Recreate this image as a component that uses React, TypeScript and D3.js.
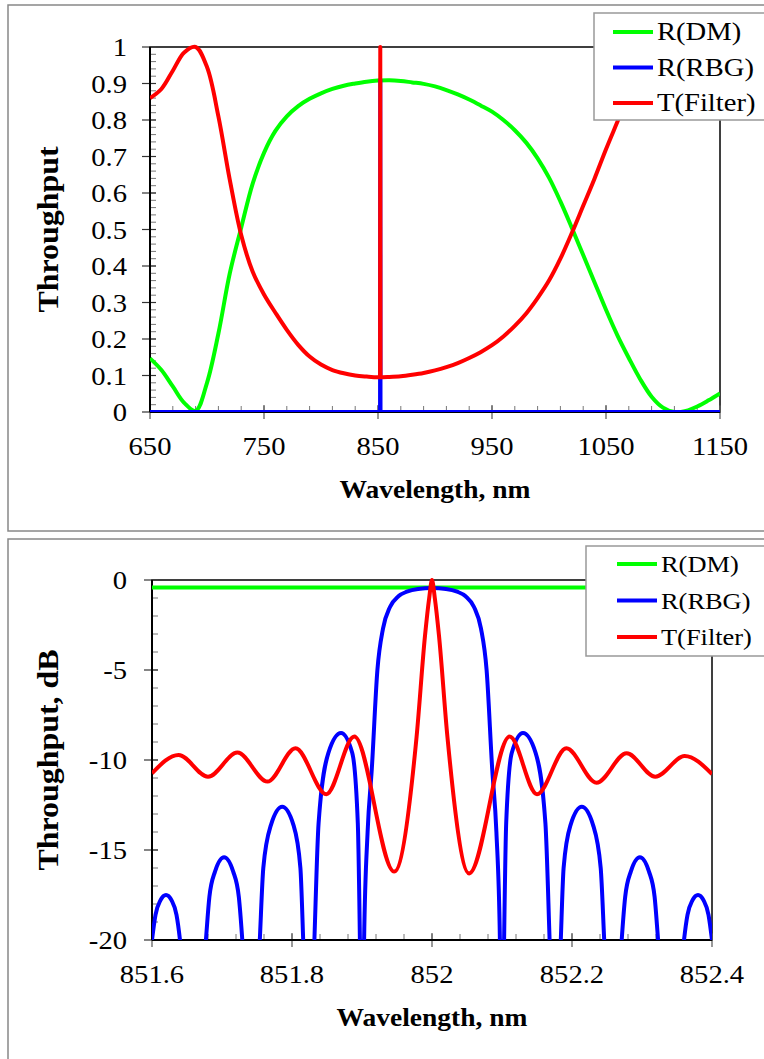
import React from 'react';
import * as d3 from 'd3';

// ---- top panel data (linear throughput) ----
const wlTop = [650, 660, 670, 680, 690, 700, 710, 720, 730, 740, 750, 760, 770, 780, 790, 800, 810, 820, 830, 840, 850,
  860, 870, 880, 890, 900, 910, 920, 930, 940, 950, 960, 970, 980, 990, 1000, 1010, 1020, 1030, 1040, 1050,
  1060, 1070, 1080, 1090, 1100, 1110, 1120, 1130, 1140, 1150];
const rDmTop = [0.147, 0.115, 0.07, 0.025, 0.003, 0.08, 0.215, 0.38, 0.505, 0.625, 0.71, 0.77, 0.81, 0.838, 0.858, 0.873, 0.885, 0.894, 0.9, 0.905, 0.908,
  0.909, 0.907, 0.903, 0.899, 0.892, 0.882, 0.87, 0.856, 0.84, 0.823, 0.8, 0.772, 0.738, 0.695, 0.642, 0.577, 0.505, 0.43, 0.355, 0.28,
  0.21, 0.148, 0.09, 0.042, 0.012, 0.0, 0.003, 0.015, 0.032, 0.051];
const tFilterTop = [0.86, 0.885, 0.935, 0.985, 1.0, 0.945, 0.81, 0.636, 0.485, 0.385, 0.322, 0.272, 0.225, 0.184, 0.152, 0.13, 0.115, 0.106, 0.1, 0.097, 0.095,
  0.096, 0.098, 0.102, 0.107, 0.114, 0.123, 0.134, 0.148, 0.164, 0.183, 0.207, 0.236, 0.27, 0.312, 0.36, 0.42, 0.49, 0.565, 0.64, 0.72,
  0.795, 0.87, 0.935, 0.98, 1.0, 0.99, 0.97, 0.95, 0.93, 0.9];
const spikeWl = [851.8, 852, 852.2];
const tFilterSpike = [0.095, 1.0, 0.095];
const rbgTopWl = [650, 851.8, 852, 852.2, 1150];
const rRbgTop = [0, 0, 0.91, 0, 0];

// ---- bottom panel data (dB) ----
const dmBotWl = [851.6, 852.4];
const rDmBot = [-0.42, -0.42];
const rbgWl = [851.600, 851.605, 851.612, 851.620, 851.628, 851.635, 851.640, 851.658,
  851.677, 851.682, 851.690, 851.703, 851.716, 851.724, 851.729, 851.742,
  851.754, 851.759, 851.770, 851.786, 851.802, 851.812, 851.816, 851.824,
  851.832, 851.838, 851.852, 851.870, 851.886, 851.894, 851.897, 851.900,
  851.903, 851.908, 851.914, 851.922, 851.930, 851.940, 851.952, 851.964, 851.980, 852.000,
  852.020, 852.036, 852.048, 852.060, 852.070, 852.078, 852.086, 852.092, 852.097,
  852.100, 852.103, 852.106, 852.114, 852.130, 852.148, 852.162, 852.168, 852.176,
  852.184, 852.188, 852.198, 852.214, 852.230, 852.241, 852.246, 852.258,
  852.271, 852.276, 852.284, 852.297, 852.310, 852.318, 852.323, 852.342,
  852.360, 852.365, 852.372, 852.380, 852.388, 852.395, 852.400];
const rRbgDb = [-20, -18.6, -17.8, -17.5, -17.8, -18.6, -20, -30,
  -20, -17.6, -16.2, -15.4, -16.2, -17.6, -20, -30,
  -20, -16.0, -13.6, -12.6, -13.6, -16.0, -20, -30,
  -20, -13.5, -9.6, -8.5, -9.6, -13.5, -20, -30,
  -20, -14, -10.5, -5.0, -2.7, -1.5, -0.9, -0.65, -0.5, -0.45,
  -0.5, -0.65, -0.9, -1.5, -2.7, -5.0, -10.5, -14, -20,
  -30, -20, -13.5, -9.6, -8.5, -9.6, -13.5, -20, -30,
  -20, -16.0, -13.6, -12.6, -13.6, -16.0, -20, -30,
  -20, -17.6, -16.2, -15.4, -16.2, -17.6, -20, -30,
  -20, -18.6, -17.8, -17.5, -17.8, -18.6, -20];
const filterWl = [851.600, 851.638, 851.680, 851.722, 851.765, 851.805, 851.849, 851.889, 851.946, 851.978, 851.990, 851.996,
  852.000, 852.004, 852.010, 852.022, 852.053, 852.111, 852.150, 852.192, 852.235, 852.278, 852.319, 852.361, 852.400];
const tFilterDb = [-10.74, -9.72, -10.93, -9.59, -11.2, -9.35, -11.9, -8.7, -16.2, -8.7, -3.1, -1.0,
  0, -1.0, -3.1, -8.7, -16.3, -8.7, -11.9, -9.35, -11.26, -9.63, -10.93, -9.78, -10.78];

const seriesNames = ['R(DM)', 'R(RBG)', 'T(Filter)'];
const seriesColors = ['#00ff00', '#0000ff', '#ff0000'];

const topXTicks = [650, 750, 850, 950, 1050, 1150];
const topYTicks = [0, 0.1, 0.2, 0.3, 0.4, 0.5, 0.6, 0.7, 0.8, 0.9, 1];
const topYLabels = ['0', '0.1', '0.2', '0.3', '0.4', '0.5', '0.6', '0.7', '0.8', '0.9', '1'];
const botXTicks = [851.6, 851.8, 852, 852.2, 852.4];
const botXLabels = ['851.6', '851.8', '852', '852.2', '852.4'];
const botYTicks = [0, -5, -10, -15, -20];
const botYLabels = ['0', '-5', '-10', '-15', '-20'];

const FONT = '"Liberation Serif", "Times New Roman", serif';

type Pt = [number, number];
const zip = (xs: number[], ys: number[]): Pt[] => xs.map((x, i) => [x, ys[i]] as Pt);

function Panel({ top, x, y, xTicks, xLabels, yTicks, yLabels, xMinorStep, yMinorStep, series, yTitle, legend, clipId }: any) {
  const [x0, x1] = x.range();
  const [y0, y1] = y.range(); // y0 bottom, y1 top
  const xd = x.domain();
  const yd = y.domain();
  const xMinor = d3.range(Math.round((xd[1] - xd[0]) / xMinorStep) + 1).map(i => xd[0] + i * xMinorStep);
  const yMinor = d3.range(Math.round((yd[1] - yd[0]) / yMinorStep) + 1).map(i => yd[0] + i * yMinorStep);
  const midX = (x0 + x1) / 2;
  const midY = (y0 + y1) / 2;
  return (
    <g>
      <defs>
        <clipPath id={clipId}>
          <rect x={x0} y={y1 - 3} width={x1 - x0} height={y0 - y1 + 3} />
        </clipPath>
      </defs>
      <rect x={8} y={top} width={800} height={526} fill="#fff" stroke="#888" strokeWidth={1.5} />
      {/* plot frame */}
      <rect x={x0} y={y1} width={x1 - x0} height={y0 - y1} fill="none" stroke="#000" strokeWidth={1.5} />
      {/* minor ticks */}
      {xMinor.map((v, i) => (
        <line key={'xm' + i} x1={x(v)} x2={x(v)} y1={y0} y2={y0 - 6} stroke="#777" strokeWidth={1} />
      ))}
      {yMinor.map((v, i) => (
        <line key={'ym' + i} x1={x0} x2={x0 + 6} y1={y(v)} y2={y(v)} stroke="#777" strokeWidth={1} />
      ))}
      {xTicks.map((v: number, i: number) => (
        <g key={'xt' + i}>
          <line x1={x(v)} x2={x(v)} y1={y0 - 7} y2={y0 + 7} stroke="#555" strokeWidth={1.2} />
          <text transform={`translate(${x(v)},${y0 + 43}) scale(1.1,1)`} textAnchor="middle" fontFamily={FONT} fontSize={26}>{xLabels[i]}</text>
        </g>
      ))}
      {yTicks.map((v: number, i: number) => (
        <g key={'yt' + i}>
          <line x1={x0 - 8} x2={x0 + 6} y1={y(v)} y2={y(v)} stroke="#333" strokeWidth={1.2} />
          <text transform={`translate(127,${y(v) + 9}) scale(1.1,1)`} textAnchor="end" fontFamily={FONT} fontSize={26}>{yLabels[i]}</text>
        </g>
      ))}
      <line x1={x0} x2={x1} y1={y0} y2={y0} stroke="#000" strokeWidth={2} />
      <line x1={x0} x2={x0} y1={y0} y2={y1} stroke="#000" strokeWidth={2} />
      <g clipPath={`url(#${clipId})`}>
        {series.map((s: any, i: number) => {
          const line = d3.line<Pt>().x(d => x(d[0])).y(d => y(d[1])).curve(s.curve);
          return <path key={'s' + i} d={line(s.data) || ''} fill="none" stroke={seriesColors[s.c]} strokeWidth={4} strokeLinejoin="round" />;
        })}
      </g>
      <text transform={`translate(${midX},${y0 + 86}) scale(1.1,1)`} textAnchor="middle" fontFamily={FONT} fontSize={25} fontWeight="bold">Wavelength, nm</text>
      <text transform={`translate(58,${midY}) rotate(-90) scale(1.1,1)`} textAnchor="middle" fontFamily={FONT} fontSize={29} fontWeight="bold">{yTitle}</text>
      {/* legend */}
      <rect x={legend.x} y={legend.y} width={200} height={legend.h} fill="#fff" stroke="#999" strokeWidth={1.5} />
      {seriesNames.map((n, i) => {
        const ly = legend.y + legend.first + i * legend.gap;
        return (
          <g key={'lg' + i}>
            <line x1={legend.x + legend.l0} x2={legend.x + legend.l0 + 40} y1={ly} y2={ly} stroke={seriesColors[i]} strokeWidth={4} />
            <text transform={`translate(${legend.x + legend.l0 + 44},${ly + 8}) scale(1.1,1)`} fontFamily={FONT} fontSize={legend.fs}>{n}</text>
          </g>
        );
      })}
    </g>
  );
}

export default function App() {
  const xTop = d3.scaleLinear().domain([650, 1150]).range([150, 720]);
  const yTop = d3.scaleLinear().domain([0, 1]).range([412, 47]);
  const xBot = d3.scaleLinear().domain([851.6, 852.4]).range([152, 712]);
  const yBot = d3.scaleLinear().domain([-20, 0]).range([940, 580]);

  const smooth = d3.curveCatmullRom.alpha(0.5);
  const topSeries = [
    { data: zip(wlTop, rDmTop), c: 0, curve: smooth },
    { data: zip(rbgTopWl, rRbgTop), c: 1, curve: d3.curveLinear },
    { data: zip(wlTop, tFilterTop), c: 2, curve: smooth },
    { data: zip(spikeWl, tFilterSpike), c: 2, curve: d3.curveLinear },
  ];
  const botSeries = [
    { data: zip(dmBotWl, rDmBot), c: 0, curve: d3.curveLinear },
    { data: zip(rbgWl, rRbgDb), c: 1, curve: d3.curveMonotoneX },
    { data: zip(filterWl, tFilterDb), c: 2, curve: d3.curveMonotoneX },
  ];

  return (
    <svg width={764} height={1059} style={{ position: 'absolute', left: 0, top: 0, background: '#fff' }}>
      <Panel top={5} x={xTop} y={yTop} xTicks={topXTicks} xLabels={topXTicks.map(String)} yTicks={topYTicks} yLabels={topYLabels}
        xMinorStep={20} yMinorStep={0.02} series={topSeries} yTitle="Throughput" clipId="clipTop"
        legend={{ x: 594, y: 13, h: 107, first: 19, gap: 35.5, l0: 19, fs: 26 }} />
      <Panel top={539} x={xBot} y={yBot} xTicks={botXTicks} xLabels={botXLabels} yTicks={botYTicks} yLabels={botYLabels}
        xMinorStep={0.04} yMinorStep={1} series={botSeries} yTitle="Throughput, dB" clipId="clipBot"
        legend={{ x: 586, y: 546, h: 110, first: 18, gap: 36.5, l0: 31, fs: 24 }} />
    </svg>
  );
}
